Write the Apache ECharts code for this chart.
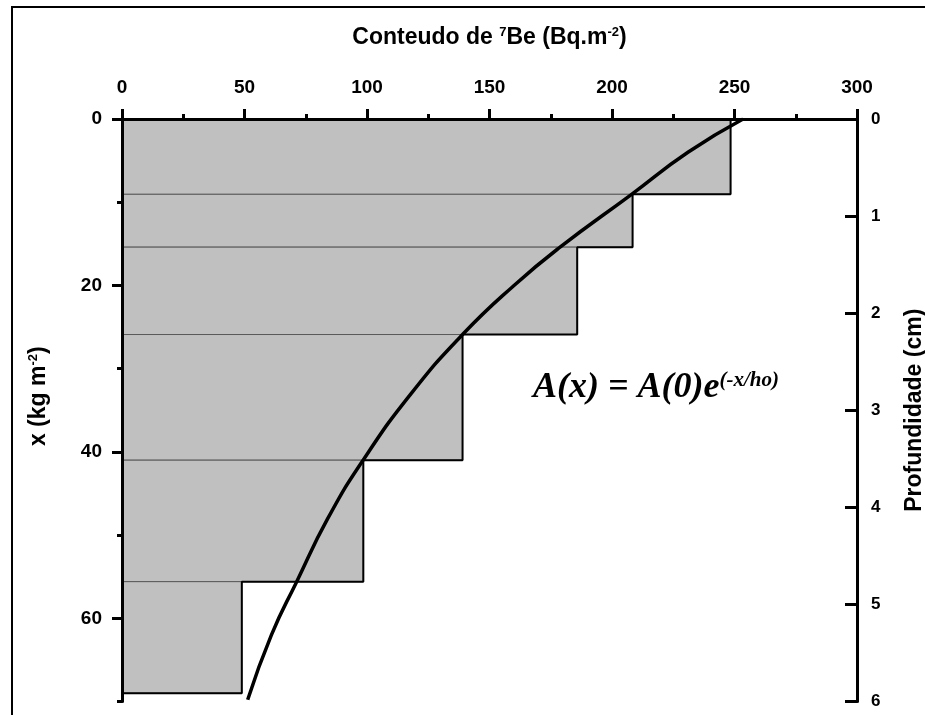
<!DOCTYPE html>
<html>
<head>
<meta charset="utf-8">
<script src="https://cdn.jsdelivr.net/npm/echarts@6/dist/echarts.min.js"></script>
<style>
html,body{margin:0;padding:0;background:#fff;}
#c{width:925px;height:715px;}
</style>
</head>
<body>
<div id="c"></div>
<script>
// ---- data ----
const depthTop    = [0, 9.05, 15.4, 25.9, 41.0, 55.6];      // kg m-2
const depthBottom = [9.05, 15.4, 25.9, 41.0, 55.6, 69.0];   // kg m-2
const activity    = [248.4, 208.4, 185.8, 139.0, 98.5, 48.9]; // Bq m-2

const fitDepth    = [0, 4, 9.05, 15.4, 20, 25.9, 33, 41.0, 48, 55.6, 62, 69.8];
const fitActivity = [253.5, 231, 208, 178.8, 160, 139, 118, 98.4, 84, 71.3, 61, 51.3];

const leftMajorTicks = [0, 20, 40, 60];
const leftMinorTicks = [10, 30, 50, 70];

// ---- build series data ----
const barData = depthTop.map((t, i) => [t, depthBottom[i], activity[i]]);
const outline = [];
for (let i = 0; i < activity.length; i++) {
  outline.push([activity[i], depthTop[i]]);
  outline.push([activity[i], depthBottom[i]]);
}
outline.push([0, depthBottom[depthBottom.length - 1]]);
const fitData = fitDepth.map((d, i) => [fitActivity[i], d]);

const FONT = '"Liberation Sans", Arial, sans-serif';
const SERIF = '"Liberation Serif", "Times New Roman", serif';
const axisLine = { show: true, lineStyle: { color: '#000', width: 3 } };

const chart = echarts.init(document.getElementById('c'), null, { renderer: 'canvas' });
chart.setOption({
  backgroundColor: '#fff',
  animation: false,
  grid: { left: 122, right: 68, top: 119, bottom: 13.5, containLabel: false, outerBoundsMode: 'none' },
  xAxis: [{
    type: 'value', position: 'top', min: 0, max: 300, interval: 50, z: 10,
    axisLine: axisLine,
    axisTick: { show: true, length: 10, lineStyle: { color: '#000', width: 3 } },
    minorTick: { show: true, splitNumber: 2, length: 5, lineStyle: { color: '#000', width: 3 } },
    splitLine: { show: false }, minorSplitLine: { show: false },
    axisLabel: { margin: 22, color: '#000', fontFamily: FONT, fontWeight: 'bold', fontSize: 19 },
    name: '{b|Conteudo de }{s|7}{b|Be (Bq.m}{s|-2}{b|)}',
    nameLocation: 'middle', nameGap: 70,
    nameTextStyle: {
      rich: {
        b: { fontFamily: FONT, fontWeight: 'bold', fontSize: 23, color: '#000', verticalAlign: 'bottom' },
        s: { fontFamily: FONT, fontWeight: 'bold', fontSize: 13, color: '#000', verticalAlign: 'top' }
      }
    }
  }],
  yAxis: [{
    type: 'value', position: 'left', inverse: true, min: 0, max: 70, interval: 10, z: 10,
    axisLine: axisLine,
    axisTick: { show: true, length: 10, customValues: leftMajorTicks, lineStyle: { color: '#000', width: 3 } },
    axisLabel: { margin: 20, customValues: leftMajorTicks, color: '#000', fontFamily: FONT, fontWeight: 'bold', fontSize: 19 },
    splitLine: { show: false },
    name: '{b|x (kg m}{s|-2}{b|)}',
    nameLocation: 'middle', nameGap: 72,
    nameTextStyle: {
      padding: [0, 0, 0, 28],
      rich: {
        b: { fontFamily: FONT, fontWeight: 'bold', fontSize: 23, color: '#000', verticalAlign: 'bottom' },
        s: { fontFamily: FONT, fontWeight: 'bold', fontSize: 13, color: '#000', verticalAlign: 'top' }
      }
    }
  }, {
    type: 'value', position: 'left', inverse: true, min: 0, max: 70, interval: 10, z: 10,
    axisLine: { show: false },
    axisTick: { show: true, length: 5, customValues: leftMinorTicks, lineStyle: { color: '#000', width: 3 } },
    axisLabel: { show: false },
    splitLine: { show: false }
  }, {
    type: 'value', position: 'right', inverse: true, min: 0, max: 6, interval: 1, z: 10,
    axisLine: axisLine,
    axisTick: { show: true, inside: true, length: 12, lineStyle: { color: '#000', width: 3 } },
    axisLabel: { margin: 14, color: '#000', fontFamily: FONT, fontWeight: 'bold', fontSize: 17 },
    splitLine: { show: false },
    name: 'Profundidade (cm)', nameLocation: 'middle', nameGap: 46, nameRotate: 90,
    nameTextStyle: { fontFamily: FONT, fontWeight: 'bold', fontSize: 23, color: '#000' }
  }],
  series: [{
    type: 'custom', xAxisIndex: 0, yAxisIndex: 0, z: 2,
    data: barData,
    encode: { x: 2, y: [0, 1] },
    renderItem: function (params, api) {
      const p0 = api.coord([0, api.value(0)]);
      const p1 = api.coord([api.value(2), api.value(1)]);
      return {
        type: 'rect',
        shape: { x: p0[0], y: p0[1], width: p1[0] - p0[0], height: p1[1] - p0[1] },
        style: { fill: '#c0c0c0', stroke: '#5a5a5a', lineWidth: 1 }
      };
    }
  }, {
    type: 'line', xAxisIndex: 0, yAxisIndex: 0, z: 3,
    data: outline, symbol: 'none', silent: true,
    lineStyle: { color: '#000', width: 2 }
  }, {
    type: 'line', xAxisIndex: 0, yAxisIndex: 0, z: 4,
    data: fitData, symbol: 'none', smooth: true, silent: true,
    lineStyle: { color: '#000', width: 3.5 }
  }],
  graphic: [
    { type: 'line', shape: { x1: 11, y1: 7, x2: 925, y2: 7 }, style: { stroke: '#000', lineWidth: 2 } },
    { type: 'line', shape: { x1: 12, y1: 7, x2: 12, y2: 715 }, style: { stroke: '#000', lineWidth: 2 } },
    {
      type: 'text', left: 533, top: 370, z: 20,
      style: {
        text: '{m|A(x) = A(0)e}{s|(-x/ho)}',
        rich: {
          m: { fontFamily: SERIF, fontStyle: 'italic', fontWeight: 'bold', fontSize: 36, fill: '#000', verticalAlign: 'bottom' },
          s: { fontFamily: SERIF, fontStyle: 'italic', fontWeight: 'bold', fontSize: 21, fill: '#000', verticalAlign: 'top' }
        }
      }
    }
  ]
});
</script>
</body>
</html>
